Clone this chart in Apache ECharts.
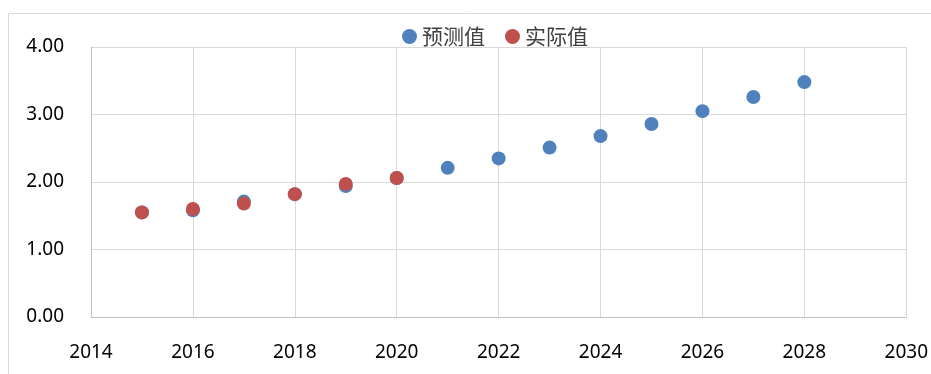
<!DOCTYPE html>
<html>
<head>
<meta charset="utf-8">
<script src="https://cdn.jsdelivr.net/npm/echarts@6/dist/echarts.min.js"></script>
<style>html,body{margin:0;padding:0;background:#fff}#c{width:931px;height:374px}</style>
</head>
<body>
<div id="c"></div>
<script>
const predYears = [2015,2016,2017,2018,2019,2020,2021,2022,2023,2024,2025,2026,2027,2028];
const predValues = [1.55,1.58,1.71,1.82,1.94,2.06,2.21,2.35,2.51,2.68,2.86,3.05,3.26,3.48];
const actYears = [2015,2016,2017,2018,2019,2020];
const actValues = [1.55,1.60,1.68,1.82,1.97,2.06];
const seriesNames = ['预测值','实际值'];

const chart = echarts.init(document.getElementById('c'), null, {renderer:'canvas'});
const font = '"Noto Sans", sans-serif';
chart.setOption({
  animation: false,
  graphic: [{
    type: 'rect', silent: true, z: -10,
    shape: {x: 8.5, y: 13.5, width: 1000, height: 500},
    style: {fill: 'none', stroke: '#d9d9d9', lineWidth: 1}
  }],
  legend: {
    data: seriesNames,
    left: 397, top: 21,
    itemWidth: 15, itemHeight: 15, itemGap: 20,
    icon: 'circle',
    textStyle: {fontSize: 21, color: '#404040', fontFamily: '"Noto Sans CJK SC", sans-serif'}
  },
  grid: {left: 91, right: 24, top: 47, bottom: 57, containLabel: false},
  xAxis: {
    type: 'value', min: 2014, max: 2030, interval: 2,
    axisLine: {show: true, lineStyle: {color: '#bfbfbf'}},
    axisTick: {show: false},
    splitLine: {show: true, lineStyle: {color: '#d9d9d9', width: 1}},
    axisLabel: {formatter: v => String(v), fontSize: 19, color: '#000', fontFamily: font, margin: 26}
  },
  yAxis: {
    type: 'value', min: 0, max: 4, interval: 1,
    axisLine: {show: true, lineStyle: {color: '#bfbfbf'}},
    axisTick: {show: false},
    splitLine: {show: true, lineStyle: {color: '#d9d9d9', width: 1}},
    axisLabel: {formatter: v => v.toFixed(2), fontSize: 19, color: '#000', fontFamily: font, margin: 27}
  },
  series: [
    {name: seriesNames[0], type: 'scatter', symbolSize: 14, itemStyle: {color: '#4f81bd', opacity: 1},
     data: predYears.map((y,i) => [y, predValues[i]])},
    {name: seriesNames[1], type: 'scatter', symbolSize: 14, itemStyle: {color: '#c0504d', opacity: 1},
     data: actYears.map((y,i) => [y, actValues[i]])}
  ]
});
</script>
</body>
</html>
